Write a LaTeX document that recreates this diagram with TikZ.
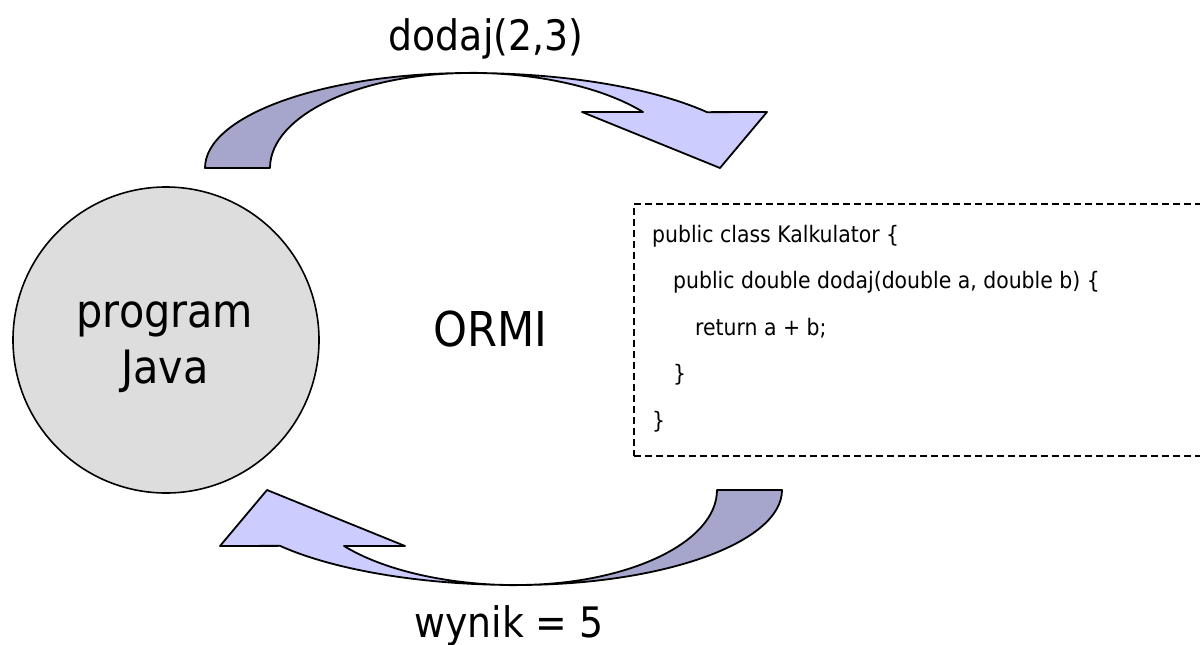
\documentclass[tikz,border=0pt]{standalone}
\usepackage{fontspec}
\setmainfont{DejaVu Sans Condensed}
\definecolor{darkband}{RGB}{166,166,204}
\definecolor{lightband}{RGB}{204,204,255}
\definecolor{circfill}{RGB}{221,221,221}
\newcommand\curvedarrowshape{%
  \filldraw[band, fill=darkband] (205,168)
    arc[start angle=180, end angle=270, x radius=265, y radius=95]
    arc[start angle=270, end angle=180, x radius=200, y radius=95] -- cycle;
  \filldraw[band, fill=lightband] (470,73)
    arc[start angle=270, end angle=324, x radius=293, y radius=95]
    -- (767,112) -- (720,168) -- (582,112) -- (643,112)
    arc[start angle=324, end angle=270, x radius=214, y radius=95] -- cycle;
}
\tikzset{
  band/.style={draw=black, line width=1.8pt, line join=round},
  bigtext/.style={font=\fontsize{42}{50}\selectfont, inner sep=0pt, anchor=base},
  codetext/.style={font=\fontsize{22.7}{26}\selectfont, inner sep=0pt, anchor=base west},
}
\begin{document}
\begin{tikzpicture}[x=1pt,y=-1pt]
\useasboundingbox (0,0) rectangle (1200,645);
\clip (0,0) rectangle (1200,645);
% arrows
\begin{scope}
\curvedarrowshape
\end{scope}
\begin{scope}[rotate around={180:(493.5,329)}]
\curvedarrowshape
\end{scope}
% circle
\node[circle, draw=black, line width=1.6pt, fill=circfill, minimum size=306pt, inner sep=0pt] (prog) at (166,340) {};
\node[bigtext, font=\fontsize{46}{50}\selectfont] (progA) at (165,327) {program};
\node[bigtext, font=\fontsize{46}{50}\selectfont] (progB) at (165,383) {Java};
% labels
\node[bigtext] (call) at (486,50) {dodaj(2,3)};
\node[bigtext] (res) at (509,637) {wynik = 5};
\node[bigtext, font=\fontsize{48}{50}\selectfont] (ormi) at (490,346) {ORMI};
% code box
\node[draw=black, line width=1.5pt, dash pattern=on 7pt off 4pt, anchor=north west, minimum width=620pt, minimum height=252pt, inner sep=0pt] (box) at (633,203) {};
\node[codetext] (c1) at (652,242) {public class Kalkulator \{};
\node[codetext] (c2) at (673,288.5) {public double dodaj(double a, double b) \{};
\node[codetext] (c3) at (695,335) {return a + b;};
\node[codetext] (c4) at (673,381.5) {\}};
\node[codetext] (c5) at (652,428) {\}};
\end{tikzpicture}
\end{document}
